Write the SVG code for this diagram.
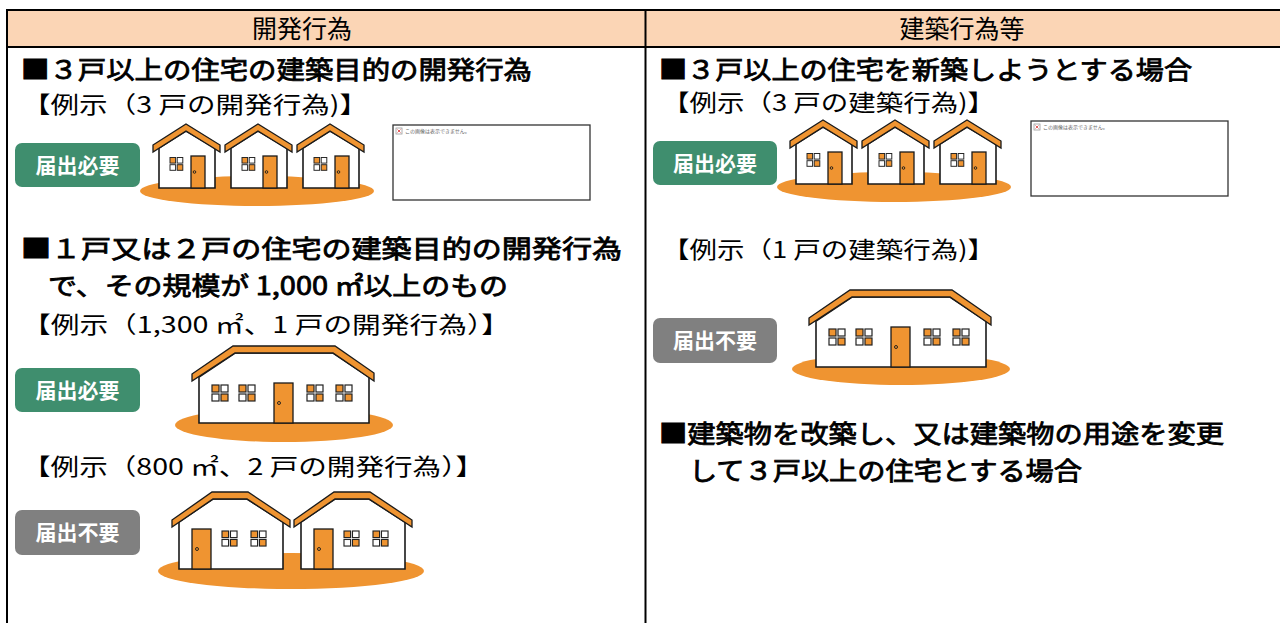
<svg xmlns="http://www.w3.org/2000/svg" xmlns:xlink="http://www.w3.org/1999/xlink" width="1280" height="623" viewBox="0 0 1280 623">
<style>
.t{font-family:"Noto Sans CJK JP","Noto Sans CJK SC",sans-serif;fill:#000}
.h{font-size:25px}
.hd{font-size:25px;stroke:#000;stroke-width:0.8px}
.ex{font-size:23px}
.lb{font-size:21px;font-weight:bold;fill:#fff;font-family:"Noto Sans CJK JP",sans-serif}
.grid{stroke:#000;stroke-width:2;fill:none}
.roof{fill:#EF9431;stroke:#1a1a1a;stroke-width:1.3;stroke-linejoin:miter}
.wall{fill:#fff;stroke:#1a1a1a;stroke-width:1.6}
.door{fill:#EF9431;stroke:#1a1a1a;stroke-width:1.3}
.knob{fill:none;stroke:#1a1a1a;stroke-width:0.9}
.wo{fill:#EF9431;stroke:#222;stroke-width:1.2}
.ww{fill:#fff;stroke:#222;stroke-width:1.2}
.ground{fill:#EF9431}
.green{fill:#3F8E6E}
.gray{fill:#808080}
.broken{fill:#fff;stroke:#333;stroke-width:1.3}
.tiny{font-family:"Noto Sans CJK JP",sans-serif;font-size:5px;fill:#666}
</style>
<defs>
  <g id="win">
    <rect class="wo" x="0" y="0" width="7" height="7"/>
    <rect class="ww" x="9" y="0" width="7" height="7"/>
    <rect class="ww" x="0" y="9" width="7" height="7"/>
    <rect class="wo" x="9" y="9" width="7" height="7"/>
  </g>
  <g id="smallHouse">
    <polygon class="wall" points="159,148 186,131 215,148 215,188 159,188"/>
    <polygon class="roof" points="153,145 186,124 220,145 220,152 186,131 153,152"/>
    <rect class="door" x="191" y="156" width="14" height="32"/>
    <circle class="knob" cx="194.5" cy="172" r="1.3"/>
    <use xlink:href="#win" href="#win" transform="translate(170,157.5) scale(0.8)"/>
  </g>
  <g id="bigHouse">
    <polygon class="wall" points="199,377 235,353 333,353 369,377 369,423 199,423"/>
    <polygon class="roof" points="192,374 233,346 335,346 374,373 374,381 333,353 235,353 192,381"/>
    <rect class="door" x="274" y="383" width="19" height="40"/>
    <circle class="knob" cx="279" cy="403" r="1.5"/>
    <use xlink:href="#win" href="#win" transform="translate(212,385)"/>
    <use xlink:href="#win" href="#win" transform="translate(239,385)"/>
    <use xlink:href="#win" href="#win" transform="translate(307,385)"/>
    <use xlink:href="#win" href="#win" transform="translate(336,385)"/>
  </g>
  <g id="midHouse">
    <polygon class="wall" points="179,522 213,499 247,499 283,522 283,569 179,569"/>
    <polygon class="roof" points="172,520 212,492 248,492 290,520 290,527 247,499 213,499 172,527"/>
    <rect class="door" x="192" y="529" width="19" height="40"/>
    <circle class="knob" cx="197" cy="549" r="1.5"/>
    <use xlink:href="#win" href="#win" transform="translate(222,531) scale(0.94)"/>
    <use xlink:href="#win" href="#win" transform="translate(251,531) scale(0.94)"/>
  </g>
  <g id="brokenImg">
    <rect class="broken" x="393" y="125" width="197" height="75"/>
    <rect x="396" y="128" width="6" height="6" fill="#fff" stroke="#999" stroke-width="0.8"/>
    <path d="M397.5 129.5 L400.5 132.5 M400.5 129.5 L397.5 132.5" stroke="#d33" stroke-width="0.8"/>
    <text class="tiny" x="405" y="133">この画像は表示できません。</text>
  </g>
</defs>

<g id="table">
  <rect x="8" y="10" width="1272" height="37" fill="#FBD5B5"/>
  <line class="grid" x1="7" y1="10" x2="1280" y2="10"/>
  <line class="grid" x1="7" y1="47" x2="1280" y2="47"/>
  <line class="grid" x1="7" y1="9" x2="7" y2="623"/>
  <line class="grid" x1="645.5" y1="9" x2="645.5" y2="623"/>
  <text class="t h" x="302" y="37.5" text-anchor="middle">開発行為</text>
  <text class="t h" x="962" y="37.5" text-anchor="middle">建築行為等</text>
</g>

<g id="connectors"/>

<g id="left-col">
  <text class="t hd" x="21" y="79" textLength="511" lengthAdjust="spacingAndGlyphs">■３戸以上の住宅の建築目的の開発行為</text>
  <text class="t ex" x="22" y="113" textLength="346" lengthAdjust="spacingAndGlyphs">【例示（3 戸の開発行為)】</text>
  <text class="t hd" x="21" y="258" textLength="601" lengthAdjust="spacingAndGlyphs">■１戸又は２戸の住宅の建築目的の開発行為</text>
  <text class="t hd" x="48" y="295" textLength="460" lengthAdjust="spacingAndGlyphs">で、その規模が 1,000 ㎡以上のもの</text>
  <text class="t ex" x="22" y="333" textLength="488" lengthAdjust="spacingAndGlyphs">【例示（1,300 ㎡、1 戸の開発行為）】</text>
  <text class="t ex" x="22" y="475" textLength="462" lengthAdjust="spacingAndGlyphs">【例示（800 ㎡、2 戸の開発行為）】</text>
</g>

<g id="right-col">
  <text class="t hd" x="659" y="79" textLength="533" lengthAdjust="spacingAndGlyphs">■３戸以上の住宅を新築しようとする場合</text>
  <text class="t ex" x="662" y="111" textLength="333" lengthAdjust="spacingAndGlyphs">【例示（3 戸の建築行為)】</text>
  <text class="t ex" x="662" y="258" textLength="333" lengthAdjust="spacingAndGlyphs">【例示（1 戸の建築行為)】</text>
  <text class="t hd" x="659" y="443" textLength="565" lengthAdjust="spacingAndGlyphs">■建築物を改築し、又は建築物の用途を変更</text>
  <text class="t hd" x="689" y="480" textLength="393" lengthAdjust="spacingAndGlyphs">して３戸以上の住宅とする場合</text>
</g>

<g id="label-left-1">
  <rect class="green" x="15" y="143" width="125" height="44" rx="7"/>
  <text class="lb" x="77.5" y="172.5" text-anchor="middle">届出必要</text>
</g>
<g id="label-left-2">
  <rect class="green" x="15" y="368" width="125" height="44" rx="7"/>
  <text class="lb" x="77.5" y="397.5" text-anchor="middle">届出必要</text>
</g>
<g id="label-left-3">
  <rect class="gray" x="15" y="510" width="125" height="45" rx="7"/>
  <text class="lb" x="77.5" y="540" text-anchor="middle">届出不要</text>
</g>
<g id="label-right-1">
  <rect class="green" x="653" y="141" width="124" height="44" rx="7"/>
  <text class="lb" x="715" y="170.5" text-anchor="middle">届出必要</text>
</g>
<g id="label-right-2">
  <rect class="gray" x="653" y="318" width="124" height="45" rx="7"/>
  <text class="lb" x="715" y="348" text-anchor="middle">届出不要</text>
</g>

<g id="houses-left-3">
  <ellipse class="ground" cx="257" cy="191" rx="117" ry="15"/>
  <use xlink:href="#smallHouse" href="#smallHouse"/>
  <use xlink:href="#smallHouse" href="#smallHouse" x="72"/>
  <use xlink:href="#smallHouse" href="#smallHouse" x="144"/>
</g>
<g id="houses-right-3" transform="translate(637,-4)">
  <ellipse class="ground" cx="257" cy="191" rx="117" ry="15"/>
  <use xlink:href="#smallHouse" href="#smallHouse"/>
  <use xlink:href="#smallHouse" href="#smallHouse" x="72"/>
  <use xlink:href="#smallHouse" href="#smallHouse" x="144"/>
</g>
<g id="broken-left">
  <use xlink:href="#brokenImg" href="#brokenImg"/>
</g>
<g id="broken-right">
  <use xlink:href="#brokenImg" href="#brokenImg" transform="translate(638,-4)"/>
</g>
<g id="house-left-1">
  <ellipse class="ground" cx="284" cy="425" rx="109" ry="17"/>
  <use xlink:href="#bigHouse" href="#bigHouse"/>
</g>
<g id="house-right-1" transform="translate(617,-56)">
  <ellipse class="ground" cx="284" cy="425" rx="109" ry="16"/>
  <use xlink:href="#bigHouse" href="#bigHouse"/>
</g>
<g id="houses-left-2">
  <ellipse class="ground" cx="291" cy="571" rx="133" ry="18"/>
  <use xlink:href="#midHouse" href="#midHouse"/>
  <use xlink:href="#midHouse" href="#midHouse" x="122"/>
</g>
</svg>
